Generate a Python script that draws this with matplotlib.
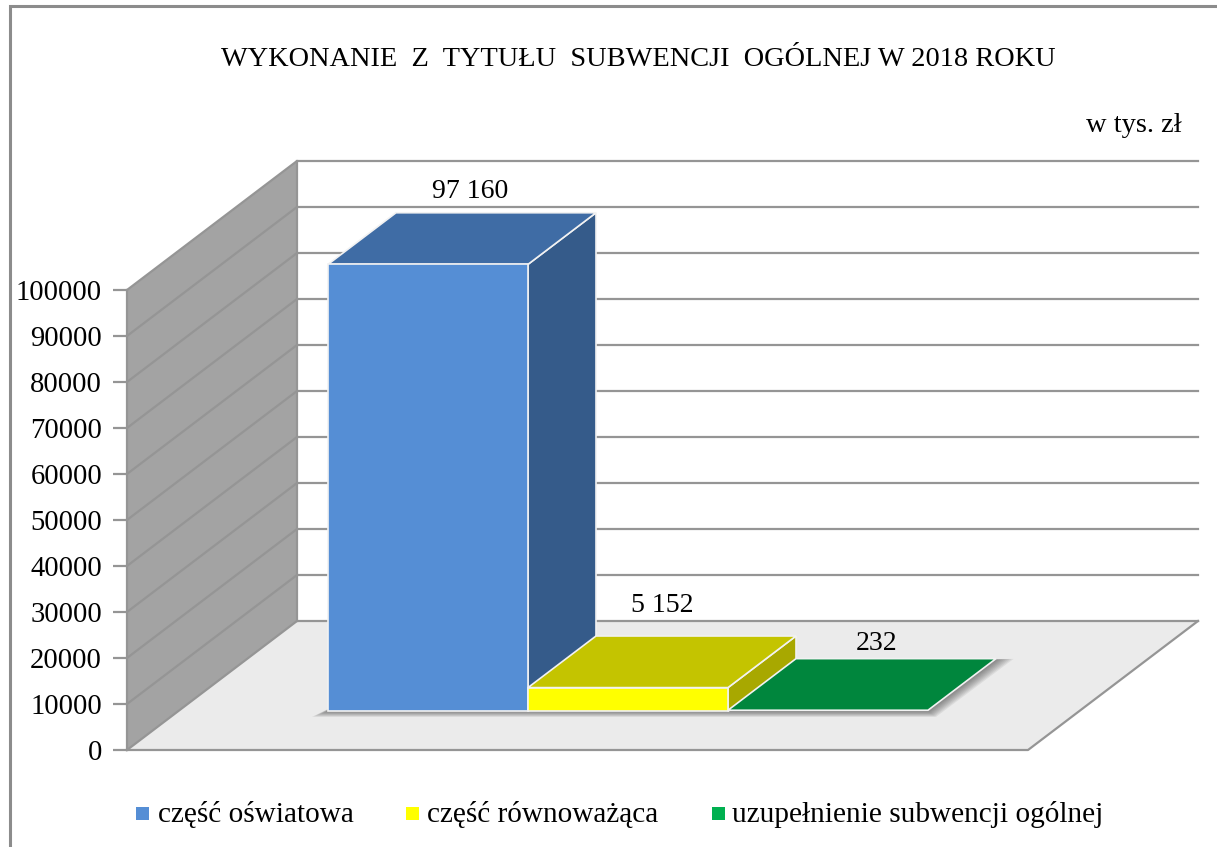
import matplotlib
matplotlib.use('Agg')
import matplotlib.pyplot as plt
from matplotlib.patches import Polygon, Rectangle
from matplotlib.lines import Line2D

title = 'WYKONANIE  Z  TYTUŁU  SUBWENCJI  OGÓLNEJ W 2018 ROKU'
unit_note = 'w tys. zł'
categories = ['część oświatowa', 'część równoważąca', 'uzupełnienie subwencji ogólnej']
values = [97160, 5152, 232]
value_labels = ['97 160', '5 152', '232']
y_ticks = [0, 10000, 20000, 30000, 40000, 50000, 60000, 70000, 80000, 90000, 100000]

front_colors = ['#558ed5', '#ffff00', '#00863d']
top_colors = ['#3f6ca5', '#c4c400', '#00863d']
side_colors = ['#355b8a', '#a8a800', '#00863d']
legend_colors = ['#558ed5', '#ffff00', '#00b050']

W, H = 1217, 847
plt.rcParams['font.family'] = ['Liberation Serif', 'DejaVu Serif']

fig = plt.figure(figsize=(W / 100, H / 100), dpi=100)
# axes box = front plane of the 3d chart, x in pixels, y in chart values
ax = fig.add_axes([127 / W, (H - 750) / H, 901 / W, 460 / H])
ax.set_xlim(0, 901)
ax.set_ylim(0, 100000)
ax.patch.set_visible(False)
for s in ax.spines.values():
    s.set_visible(False)

per_px = 100000 / 460
depth_x = 170
depth_y = 129 * per_px


def pt(x, v, d):
    # oblique projection, d = 0 front of floor, d = 1 back wall
    return (x + d * depth_x, v + d * depth_y)


def poly(points, color, z, edge='none', lw=0, alpha=1):
    ax.add_patch(Polygon(points, closed=True, facecolor=color, edgecolor=edge,
                         linewidth=lw, alpha=alpha, zorder=z, clip_on=False))


# floor and side wall
poly([pt(0, 0, 0), pt(901, 0, 0), pt(901, 0, 1), pt(0, 0, 1)], '#ebebeb', 1)
poly([pt(0, 0, 0), pt(0, 0, 1), pt(0, 100000, 1), pt(0, 100000, 0)], '#a3a3a3', 1)

grid = '#959595'
for v in y_ticks:
    a, b, c = pt(0, v, 0), pt(0, v, 1), pt(901, v, 1)
    ax.plot([a[0], b[0], c[0]], [a[1], b[1], c[1]], color=grid, lw=1.6, zorder=2,
            clip_on=False, solid_joinstyle='miter')
a, b, c = pt(0, 0, 0), pt(901, 0, 0), pt(901, 0, 1)
ax.plot([a[0], b[0], c[0]], [a[1], b[1], c[1]], color=grid, lw=1.6, zorder=2, clip_on=False)
ax.plot([0, 0], [0, 100000], color=grid, lw=1.6, zorder=2, clip_on=False)
b = pt(0, 0, 1)
ax.plot([b[0], b[0]], [b[1], pt(0, 100000, 1)[1]], color=grid, lw=1.6, zorder=2, clip_on=False)

# bars
bar_w = 200
d0, d1 = 0.30, 0.70
# soft shadow under the row of bars
sx0, sx1 = 150, 150 + 3 * bar_w
for i in range(8):
    g = 1 + i * 1.0
    poly([pt(sx0 - g * 2, -g * 0.7 * per_px, d0), pt(sx1 + g, -g * 0.7 * per_px, d0),
          pt(sx1 + g * 2.2, g * 0.1 * per_px, d1), pt(sx1 - 100, 0, d1), pt(sx0, 0, d0 + 0.05)],
         '#404040', 3, alpha=0.09)

for i in range(3):
    x0 = 150 + i * bar_w
    x1 = x0 + bar_w
    v = values[i]
    ec = '#f2f2f2'
    z = 5 + i
    if v > 1000:
        poly([pt(x1, 0, d0), pt(x1, 0, d1), pt(x1, v, d1), pt(x1, v, d0)], side_colors[i], z, ec, 1.2)
        poly([pt(x0, v, d0), pt(x1, v, d0), pt(x1, v, d1), pt(x0, v, d1)], top_colors[i], z, ec, 1.2)
        poly([pt(x0, 0, d0), pt(x1, 0, d0), pt(x1, v, d0), pt(x0, v, d0)], front_colors[i], z, ec, 1.2)
    else:
        poly([pt(x0, v, d0), pt(x1, v, d0), pt(x1, v, d1), pt(x0, v, d1)], top_colors[i], z, ec, 1.2)

# y axis with ticks
ax.set_xticks([])
ax.set_yticks(y_ticks)
ax.set_yticklabels([str(t) for t in y_ticks])
ax.tick_params(axis='y', length=10, width=1.6, color=grid, labelsize=20.6, pad=8, labelcolor='black')

# value labels
label_pos = [(470, 191), (662, 605), (877, 643)]
for (px, py), s in zip(label_pos, value_labels):
    fig.text(px / W, 1 - py / H, s, ha='center', va='center', fontsize=20, color='black')

fig.text(638 / W, 1 - 60 / H, title, ha='center', va='center', fontsize=20.4, color='black')
fig.text(1134 / W, 1 - 126 / H, unit_note, ha='center', va='center', fontsize=20.5, color='black')

# legend
leg_box = [136, 406, 712]
leg_text = [158, 427, 732]
for bx, tx, col, name in zip(leg_box, leg_text, legend_colors, categories):
    fig.add_artist(Rectangle((bx / W, 1 - 820 / H), 13 / W, 13 / H, transform=fig.transFigure,
                             facecolor=col, edgecolor='none'))
    fig.text(tx / W, 1 - 814 / H, name, ha='left', va='center', fontsize=21.1, color='black')

# outer frame, only left and top show inside the crop
fig.add_artist(Line2D([9.5 / W, 9.5 / W, 1], [0, 1 - 6 / H, 1 - 6 / H], transform=fig.transFigure,
                      color='#8c8c8c', linewidth=2.2, solid_joinstyle='miter'))

fig.savefig('out.png', dpi=100)
